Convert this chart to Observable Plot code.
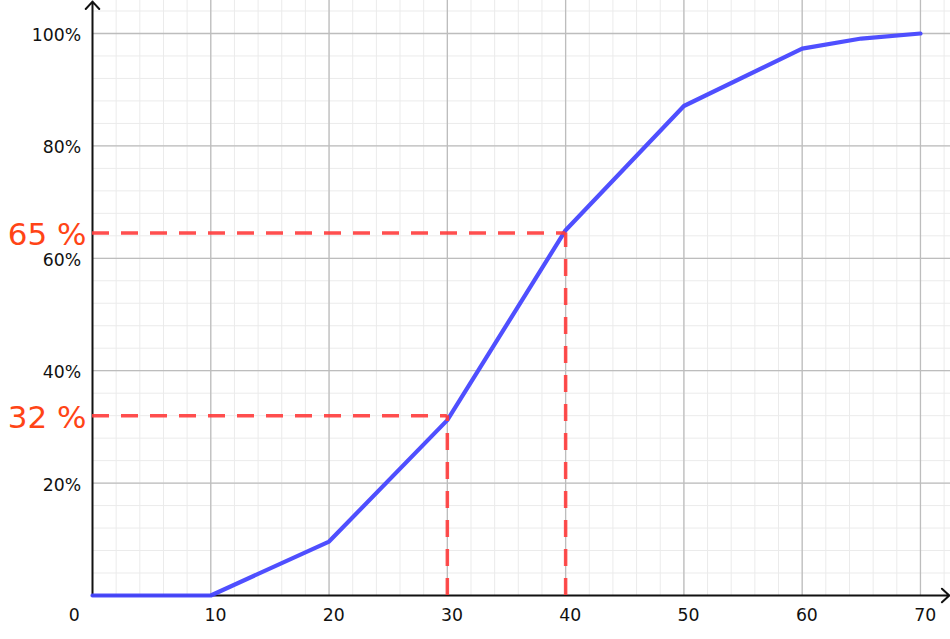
<!DOCTYPE html>
<html><head><meta charset="utf-8">
<script src="https://cdn.jsdelivr.net/npm/d3@7"></script>
<script src="https://cdn.jsdelivr.net/npm/@observablehq/plot@0.6"></script>
<style>body{margin:0;background:#fff;} #chart svg{display:block;}</style>
</head><body><div id="chart"></div>
<script>
// Cumulative curve (x value, cumulative share)
const xs = [0, 10, 20, 30, 40, 50, 60, 65, 70];
const ys = [0, 0, 0.096, 0.312, 0.65, 0.871, 0.973, 0.991, 1.0];
// Read-off guides
const guideX = [40, 30];
const guideY = [0.645, 0.32];
const guideLabels = ["65 %", "32 %"];
// Ticks
const xTicks = [10, 20, 30, 40, 50, 60, 70];
const yTicks = [0.2, 0.4, 0.6, 0.8, 1.0];
const originLabel = ["0"];
const xMinor = d3.range(0, 73, 2);
const yMinor = d3.range(0, 1.06, 0.04);

const xDomain = [0, 72.54];
const yDomain = [0, 1.0587];

const pts = xs.map((x, i) => ({x, y: ys[i]}));
const guides = guideX.map((x, i) => ({x, y: guideY[i], label: guideLabels[i]}));

const font = "DejaVu Sans, sans-serif";
const fs = 17.3;

const chart = Plot.plot({
  width: 950,
  height: 639,
  marginLeft: 92,
  marginRight: 0,
  marginTop: 0,
  marginBottom: 44,
  style: {fontFamily: font, background: "#fff", color: "#111", overflow: "visible"},
  x: {domain: xDomain, axis: null},
  y: {domain: yDomain, axis: null},
  marks: [
    Plot.ruleX(xMinor, {stroke: "#ebebeb", strokeWidth: 1}),
    Plot.ruleY(yMinor, {stroke: "#ebebeb", strokeWidth: 1}),
    Plot.ruleX(xTicks, {stroke: "#bdbdbd", strokeWidth: 1.3}),
    Plot.ruleY(yTicks, {stroke: "#bdbdbd", strokeWidth: 1.3}),
    Plot.axisX(xTicks, {anchor: "bottom", tickSize: 0, tickPadding: 13.7, fontSize: fs, dx: 4.7, label: null}),
    Plot.axisY(yTicks, {anchor: "left", tickSize: 0, tickPadding: 11.3, fontSize: fs, dy: 2, tickFormat: d3.format(".0%"), label: null}),
    Plot.text(originLabel, {x: 0, y: 0, text: d => d, dx: -18.2, dy: 13.7, lineAnchor: "top", fontSize: fs, fill: "#111"}),
    Plot.arrow([0], {x1: 0, y1: 0, x2: xDomain[1] - 0.1, y2: 0, stroke: "#111", strokeWidth: 2, headLength: 7.5, headAngle: 85}),
    Plot.arrow([0], {x1: 0, y1: 0, x2: 0, y2: yDomain[1] - 0.002, stroke: "#111", strokeWidth: 2, headLength: 7.5, headAngle: 85}),
    Plot.line(pts, {x: "x", y: "y", stroke: "#4646ff", strokeWidth: 4.2, strokeOpacity: 0.95}),
    Plot.ruleY(guides, {y: "y", x1: 0, x2: "x", stroke: "#ff3b3b", strokeWidth: 3.5, strokeDasharray: "17,12", strokeOpacity: 0.9}),
    Plot.ruleX(guides, {x: "x", y1: 0, y2: "y", stroke: "#ff3b3b", strokeWidth: 3.5, strokeDasharray: "17,12", strokeOpacity: 0.9}),
    Plot.text(guides, {x: 0, y: "y", text: "label", textAnchor: "end", dx: -6, dy: 2, fontSize: 31, fill: "#ff4416"})
  ]
});
document.getElementById("chart").appendChild(chart);
</script>
</body></html>
